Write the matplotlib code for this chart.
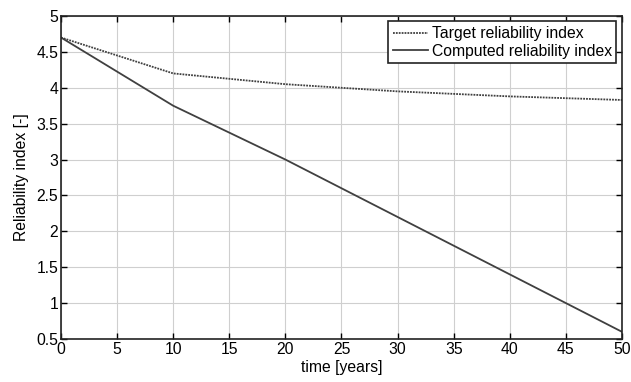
import matplotlib
matplotlib.use("Agg")
import matplotlib.pyplot as plt

years = [0, 10, 20, 30, 40, 50]
target_beta = [4.7, 4.2, 4.05, 3.95, 3.88, 3.83]
computed_beta = [4.7, 3.75, 3.0, 2.2, 1.4, 0.6]
xticks = [0, 5, 10, 15, 20, 25, 30, 35, 40, 45, 50]
yticks = [0.5, 1, 1.5, 2, 2.5, 3, 3.5, 4, 4.5, 5]

plt.rcParams['font.family'] = ['Liberation Sans', 'DejaVu Sans']
fig = plt.figure(figsize=(6.31, 3.82), dpi=100)
ax = fig.add_axes([0.0967, 0.1126, 0.889, 0.8455])

ax.plot(years, target_beta, color='#404040', lw=1.3, ls=(0, (1, 0.6)), label='Target reliability index')
ax.plot(years, computed_beta, color='#404040', lw=1.3, label='Computed reliability index')

ax.set_xlim(0, 50)
ax.set_ylim(0.5, 5)
ax.set_xticks(xticks)
ax.set_yticks(yticks)
ax.set_yticklabels([f'{v:g}' for v in yticks])
ax.tick_params(direction='in', top=True, right=True, labelsize=11.3, length=4, width=1, colors='black', pad=2)
ax.grid(True, color='#cfcfcf', lw=0.8)
for s in ax.spines.values():
    s.set_linewidth(1.2)
    s.set_color('#222222')
ax.set_facecolor('white')
ax.set_xlabel('time [years]', fontsize=11.3, labelpad=2)
ax.set_ylabel('Reliability index [-]', fontsize=11.3, labelpad=5)

leg = ax.legend(loc='upper right', fontsize=11.3, frameon=True, fancybox=False,
                borderpad=0.3, labelspacing=0.15, handlelength=2.2, handletextpad=0.25,
                borderaxespad=0.35)
leg.get_frame().set_edgecolor('#222222')
leg.get_frame().set_linewidth(1.2)
leg.get_frame().set_alpha(1)

fig.savefig('out.png', dpi=100)
